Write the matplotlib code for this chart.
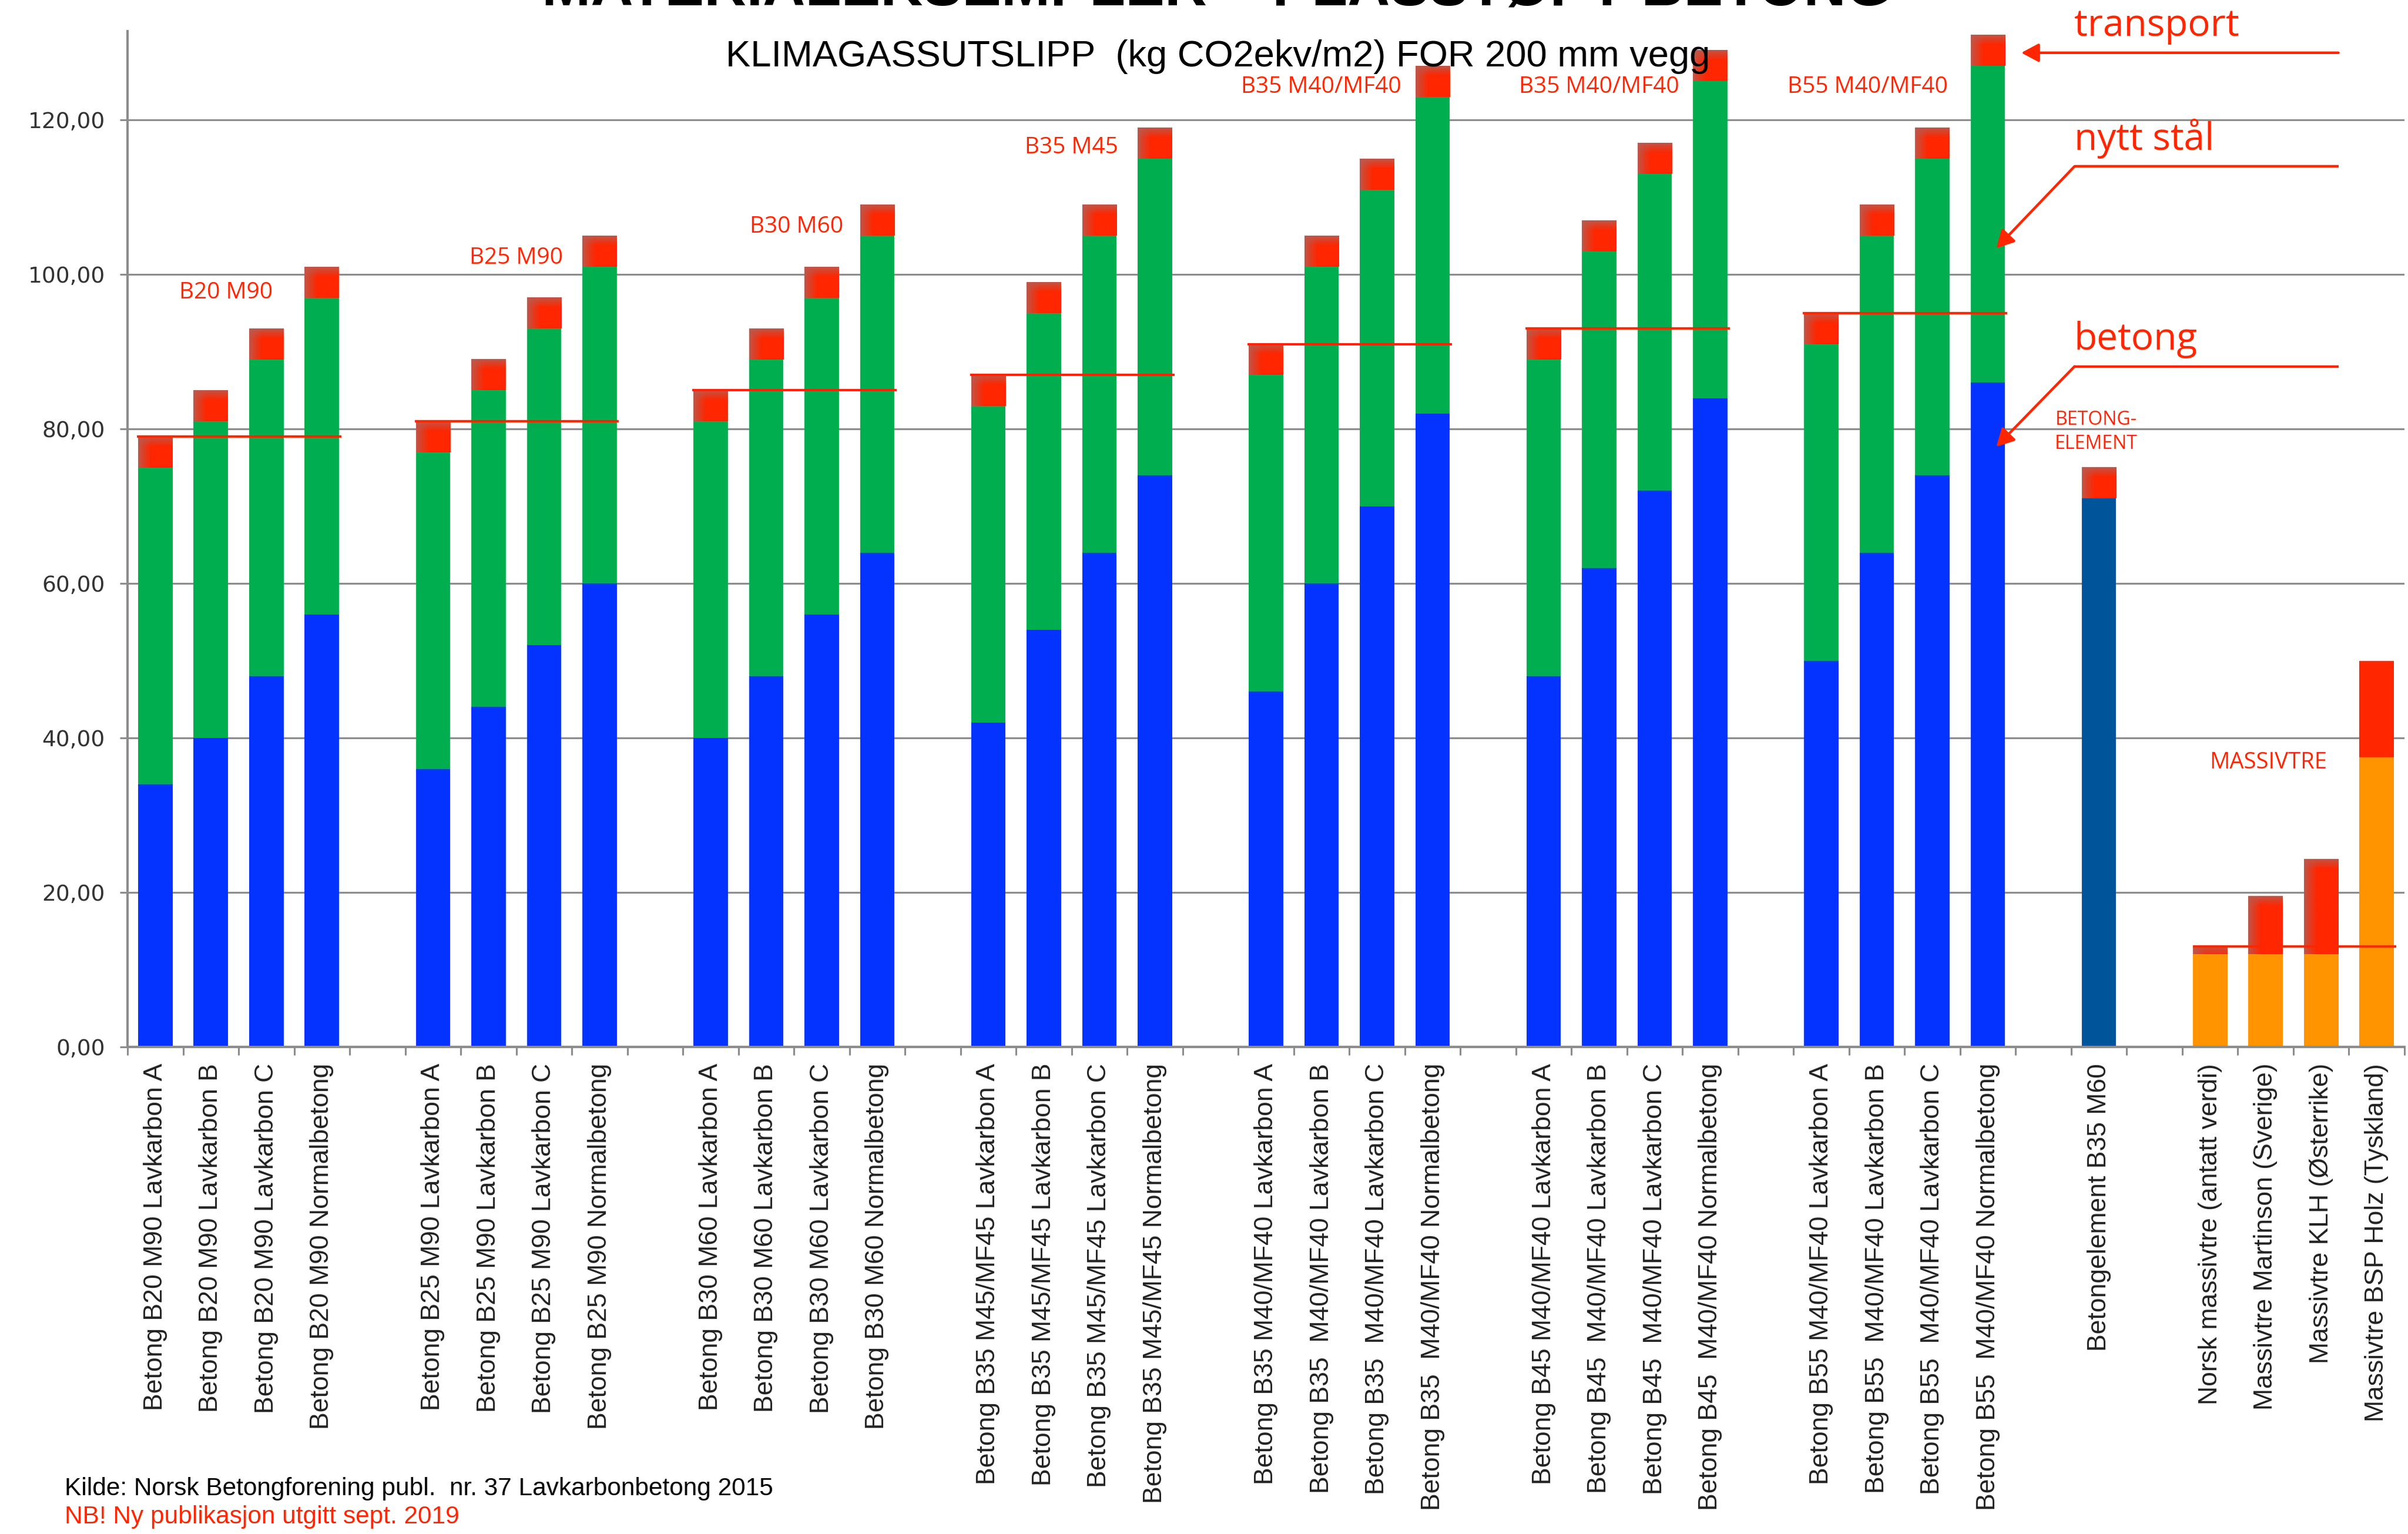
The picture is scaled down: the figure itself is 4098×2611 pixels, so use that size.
import numpy as np
import matplotlib
matplotlib.use('Agg')
import matplotlib.pyplot as plt
from matplotlib.colors import to_rgb

# klimagassutslipp (kg CO2ekv/m2) for 200 mm vegg, fordelt paa betong / nytt staal / transport

betong_navn = [
    ['Betong B20 M90 Lavkarbon A', 'Betong B20 M90 Lavkarbon B',
     'Betong B20 M90 Lavkarbon C', 'Betong B20 M90 Normalbetong'],
    ['Betong B25 M90 Lavkarbon A', 'Betong B25 M90 Lavkarbon B',
     'Betong B25 M90 Lavkarbon C', 'Betong B25 M90 Normalbetong'],
    ['Betong B30 M60 Lavkarbon A', 'Betong B30 M60 Lavkarbon B',
     'Betong B30 M60 Lavkarbon C', 'Betong B30 M60 Normalbetong'],
    ['Betong B35 M45/MF45 Lavkarbon A', 'Betong B35 M45/MF45 Lavkarbon B',
     'Betong B35 M45/MF45 Lavkarbon C', 'Betong B35 M45/MF45 Normalbetong'],
    ['Betong B35 M40/MF40 Lavkarbon A', 'Betong B35  M40/MF40 Lavkarbon B',
     'Betong B35  M40/MF40 Lavkarbon C', 'Betong B35  M40/MF40 Normalbetong'],
    ['Betong B45 M40/MF40 Lavkarbon A', 'Betong B45  M40/MF40 Lavkarbon B',
     'Betong B45  M40/MF40 Lavkarbon C', 'Betong B45  M40/MF40 Normalbetong'],
    ['Betong B55 M40/MF40 Lavkarbon A', 'Betong B55  M40/MF40 Lavkarbon B',
     'Betong B55  M40/MF40 Lavkarbon C', 'Betong B55  M40/MF40 Normalbetong'],
]
gruppe_tekst = ['B20 M90', 'B25 M90', 'B30 M60', 'B35 M45',
                'B35 M40/MF40', 'B35 M40/MF40', 'B55 M40/MF40']

betong = [34, 40, 48, 56,
          36, 44, 52, 60,
          40, 48, 56, 64,
          42, 54, 64, 74,
          46, 60, 70, 82,
          48, 62, 72, 84,
          50, 64, 74, 86]
staal = [41, 41, 41, 41,
         41, 41, 41, 41,
         41, 41, 41, 41,
         41, 41, 41, 41,
         41, 41, 41, 41,
         41, 41, 41, 41,
         41, 41, 41, 41]
transport = [4, 4, 4, 4,
             4, 4, 4, 4,
             4, 4, 4, 4,
             4, 4, 4, 4,
             4, 4, 4, 4,
             4, 4, 4, 4,
             4, 4, 4, 4]
referanse = [79, 81, 85, 87, 91, 93, 95]

element_navn = 'Betongelement B35 M60'
element_betong = 71
element_transport = 4

tre_navn = ['Norsk massivtre (antatt verdi)', 'Massivtre Martinson (Sverige)',
            'Massivtre KLH (Østerrike)', 'Massivtre BSP Holz (Tyskland)']
tre = [12, 12, 12, 37.5]
tre_transport = [1, 7.5, 12.3, 12.5]
tre_referanse = 13

BLAA = '#0433FF'
GROENN = '#00AE50'
ROED = '#FF2600'
BRUN = '#BA5A4E'
ORANSJE = '#FF9300'
MOERKBLAA = '#00549A'
GRAA = '#8c8c8c'

# plassering: grupper paa fire med en tom plass mellom
pos, navn, gruppe_pos = [], [], []
slot = 0
for g in betong_navn:
    p = list(range(slot, slot + len(g)))
    gruppe_pos.append(p)
    pos += p
    navn += g
    slot += len(g) + 1
element_pos = slot
slot += 2
tre_pos = list(range(slot, slot + len(tre)))
slot += len(tre)
n_slots = slot

W, H = 4098, 2611
fig = plt.figure(figsize=(W / 100, H / 100), dpi=100)
ax = fig.add_axes([217 / W, 829 / H, (4092 - 217) / W, (1782 - 53) / H])
xlim = (-0.5, n_slots - 0.5)
ylim = (0, 131.5)
px_x = (4092 - 217) / (xlim[1] - xlim[0])
px_y = (1782 - 53) / (ylim[1] - ylim[0])

bw = 0.62
ax.bar(pos, betong, bw, color=BLAA, zorder=2)
ax.bar(pos, staal, bw, bottom=betong, color=GROENN, zorder=2)
tb = ax.bar(pos, transport, bw, bottom=np.add(betong, staal), color=ROED, zorder=2)
ax.bar(element_pos, element_betong, bw, color=MOERKBLAA, zorder=2)
eb = ax.bar(element_pos, element_transport, bw, bottom=element_betong, color=ROED, zorder=2)
ax.bar(tre_pos, tre, bw, color=ORANSJE, zorder=2)
trb = ax.bar(tre_pos, tre_transport, bw, bottom=tre, color=ROED, zorder=2)


def skygge(rect):
    # brunlig kant oppe og til venstre paa transportdelen
    x0, y0 = rect.get_x(), rect.get_y()
    w, h = rect.get_width(), rect.get_height()
    ny = max(int(h * px_y), 2)
    nx = max(int(w * px_x), 2)
    yy = (np.arange(ny) + 0.5)[:, None]
    xx = (np.arange(nx) + 0.5)[None, :]
    t = np.clip(yy / 17, 0, 1) * np.clip(xx / 22, 0, 1)
    t = t ** 0.8
    a, b = np.array(to_rgb(BRUN)), np.array(to_rgb(ROED))
    img = a[None, None, :] * (1 - t[..., None]) + b[None, None, :] * t[..., None]
    ax.imshow(img, extent=(x0, x0 + w, y0, y0 + h), origin='upper',
              aspect='auto', interpolation='bilinear', zorder=2.5)


for r in list(tb) + list(eb) + list(trb)[:3]:
    skygge(r)

# referanselinjer (Lavkarbon A)
for p, ref in zip(gruppe_pos, referanse):
    ax.hlines(ref, p[0] - 0.33, p[-1] + 0.35, color=ROED, lw=3, zorder=4)
ax.hlines(tre_referanse, tre_pos[0] - 0.31, tre_pos[-1] + 0.35, color=ROED, lw=3, zorder=4)

# gruppetekster
tekst_plass = [(1.27, 96.9), (1.5, 101.4), (1.55, 105.4), (1.5, 115.7),
               (0.99, 123.5), (1.0, 123.5), (0.83, 123.5)]
for p, t, (dx, y) in zip(gruppe_pos, gruppe_tekst, tekst_plass):
    ax.text(p[0] + dx, y, t, color=ROED, fontsize=28, family='Open Sans',
            ha='center', va='baseline', zorder=5)

ax.text(element_pos - 0.05, 77.4, 'BETONG-\nELEMENT', color=ROED, fontsize=23,
        family='Open Sans', ha='center', va='baseline', linespacing=1.35, zorder=5)
ax.text(tre_pos[1] + 0.05, 36.05, 'MASSIVTRE', color=ROED, fontsize=27.5,
        family='Open Sans', ha='center', va='baseline', zorder=5)

# forklaring med piler
ax.text(34.55, 130.9, 'transport', color=ROED, fontsize=46, family='Open Sans',
        va='baseline', clip_on=False, zorder=6)
ax.annotate('', xy=(33.6, 128.7), xytext=(39.31, 128.7), annotation_clip=False,
            arrowprops=dict(arrowstyle='-|>,head_length=0.45,head_width=0.24',
                            mutation_scale=40, lw=3.2, color=ROED,
                            shrinkA=0, shrinkB=0), zorder=6)
for tekst, y_tekst, y_linje, y_pil in [('nytt stål', 116.1, 114.0, 103.4),
                                       ('betong', 90.3, 88.1, 77.7)]:
    ax.text(34.55, y_tekst, tekst, color=ROED, fontsize=46, family='Open Sans',
            va='baseline', clip_on=False, zorder=6)
    ax.plot([39.31, 34.56], [y_linje, y_linje], color=ROED, lw=3.2,
            solid_capstyle='butt', clip_on=False, zorder=6)
    ax.annotate('', xy=(33.15, y_pil), xytext=(34.56, y_linje), annotation_clip=False,
                arrowprops=dict(arrowstyle='-|>,head_length=0.45,head_width=0.24',
                                mutation_scale=40, lw=3.2, color=ROED,
                                shrinkA=0, shrinkB=0), zorder=6)

ax.set_xlim(*xlim)
ax.set_ylim(*ylim)

# akser
ax.set_yticks(np.arange(0, 121, 20))
ax.set_yticklabels([f'{v:.2f}'.replace('.', ',') for v in np.arange(0, 121, 20)],
                   family='DejaVu Sans', fontsize=27, color='#333333')
ax.tick_params(axis='y', length=9.5, width=2.2, color=GRAA, pad=18)
ax.yaxis.grid(True, color=GRAA, lw=2.2, zorder=0)
ax.set_axisbelow(True)

ax.set_xticks(np.arange(n_slots + 1) - 0.5)
ax.set_xticklabels([])
ax.tick_params(axis='x', which='major', length=10, width=2.2, color=GRAA)
alle_pos = pos + [element_pos] + tre_pos
alle_navn = navn + [element_navn] + tre_navn
ax.set_xticks(alle_pos, alle_navn, minor=True, rotation=90, fontsize=32,
              family='Liberation Sans', color='#222222', va='top', ha='center')
ax.tick_params(axis='x', which='minor', length=0, pad=20)

for s in ['top', 'right']:
    ax.spines[s].set_visible(False)
for s in ['left', 'bottom']:
    ax.spines[s].set_color(GRAA)
    ax.spines[s].set_linewidth(2.9)

# titler og kilde
fig.text(2071 / W, 1 - 9 / H, 'MATERIALEKSEMPLER – PLASSTØPT BETONG',
         fontsize=72, fontweight='bold', family='Liberation Sans',
         ha='center', va='baseline')
fig.text(2073 / W, 1 - 113 / H, 'KLIMAGASSUTSLIPP  (kg CO2ekv/m2) FOR 200 mm vegg',
         fontsize=45.5, family='Liberation Sans', ha='center', va='baseline', zorder=10)
fig.text(110 / W, 1 - 2545 / H,
         'Kilde: Norsk Betongforening publ.  nr. 37 Lavkarbonbetong 2015',
         fontsize=30.5, family='Liberation Sans', ha='left', va='baseline')
fig.text(110 / W, 1 - 2593 / H, 'NB! Ny publikasjon utgitt sept. 2019',
         fontsize=30.5, family='Liberation Sans', color=ROED, ha='left', va='baseline')

fig.savefig('out.png', dpi=100)
